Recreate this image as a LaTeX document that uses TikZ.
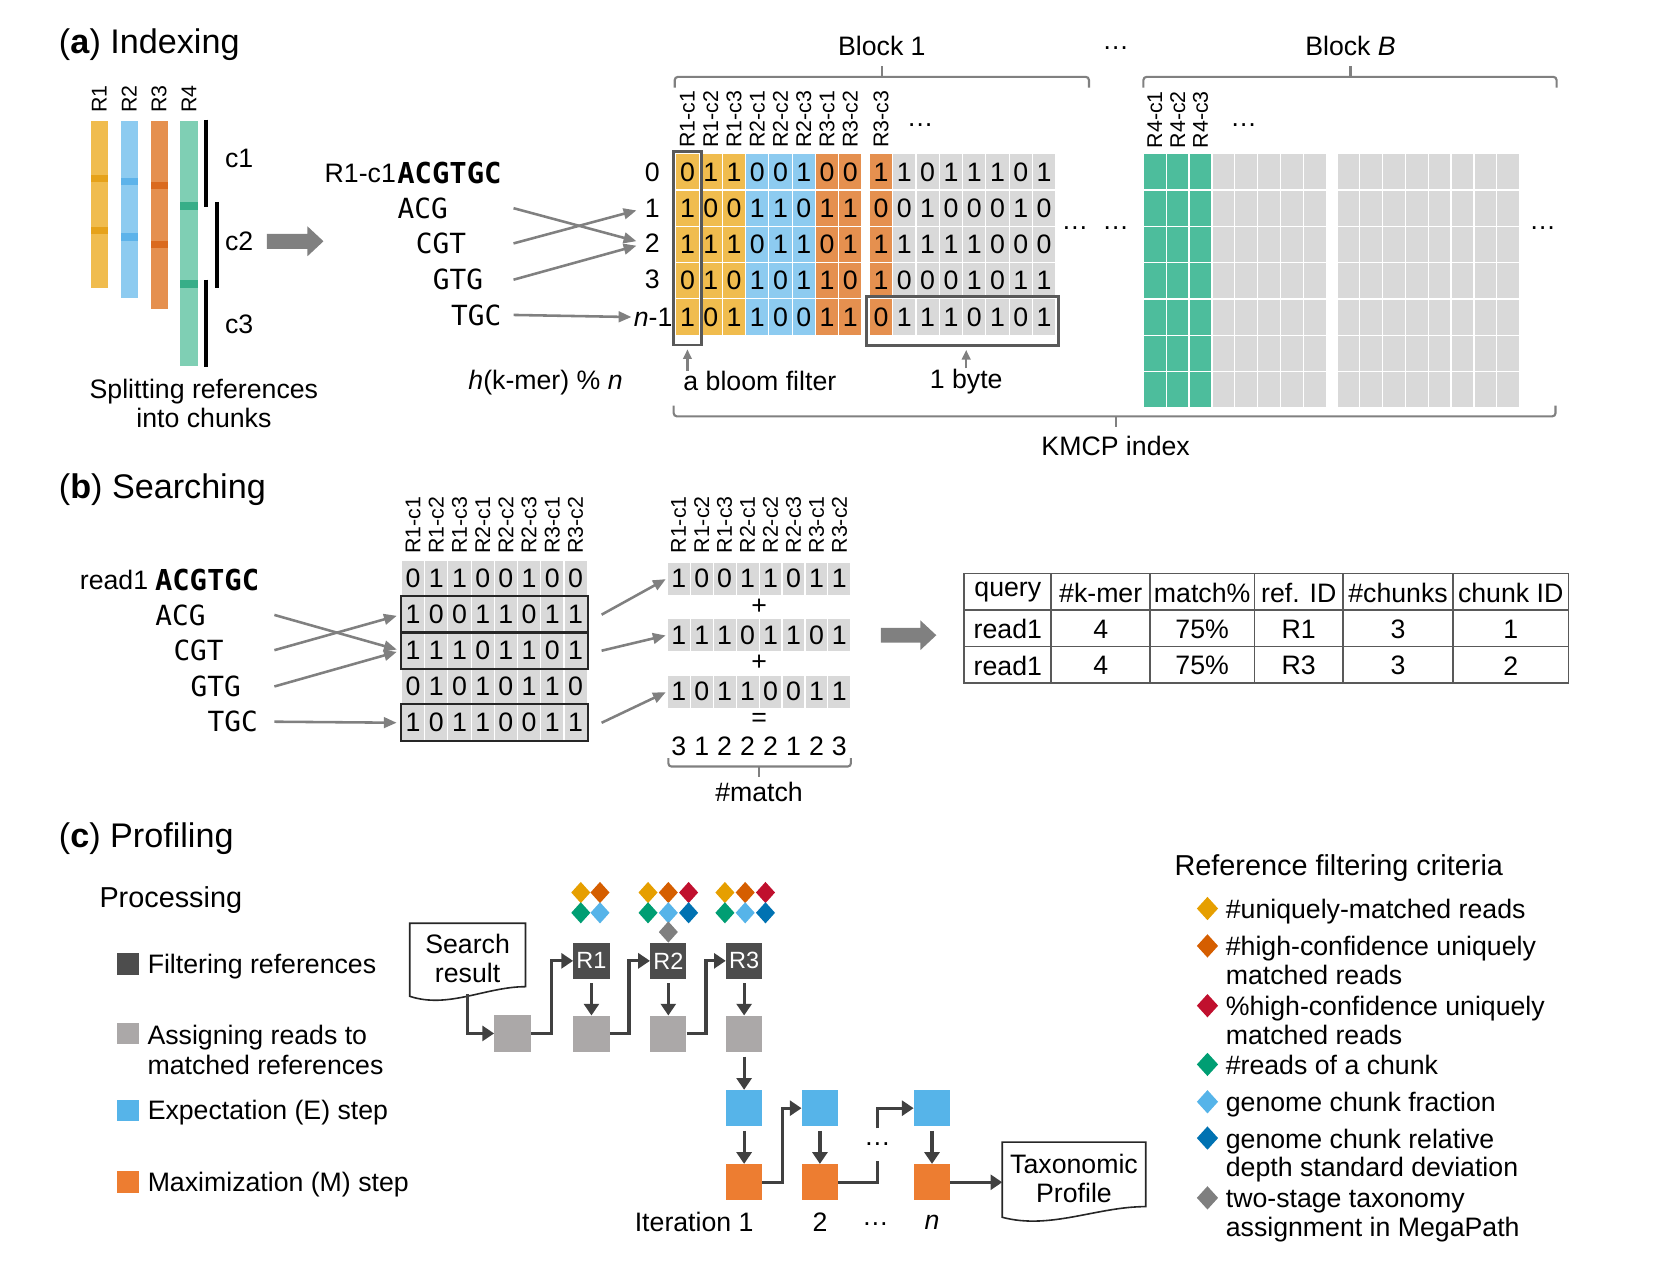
\documentclass[tikz,border=0pt]{standalone}
\usepackage{fontspec}
\setmainfont{Liberation Sans}
\newfontfamily\seqfont{DejaVu Sans Mono}
\usetikzlibrary{arrows.meta,shapes.geometric,positioning,calc,fit}

\definecolor{ry}{HTML}{F0BC4E}
\definecolor{ryd}{HTML}{E6A21A}
\definecolor{rb}{HTML}{8DCBF0}
\definecolor{rbd}{HTML}{5DB3EA}
\definecolor{ro}{HTML}{E5904F}
\definecolor{rod}{HTML}{DA6A1E}
\definecolor{rt}{HTML}{7FCFB4}
\definecolor{rtd}{HTML}{37AE88}
\definecolor{rg}{HTML}{4DBD9C}
\definecolor{lgr}{HTML}{D9D9D9}
\definecolor{agr}{HTML}{808080}
\definecolor{dgr}{HTML}{404040}
\definecolor{bgr}{HTML}{595959}
\definecolor{filt}{HTML}{4D4D4D}
\definecolor{asgn}{HTML}{ABA8A8}
\definecolor{estep}{HTML}{56B4E9}
\definecolor{mstep}{HTML}{ED7D31}
\definecolor{k1}{HTML}{E69F00}
\definecolor{k2}{HTML}{D55E00}
\definecolor{k3}{HTML}{C0102E}
\definecolor{k4}{HTML}{009E73}
\definecolor{k5}{HTML}{56B4E9}
\definecolor{k6}{HTML}{0072B2}
\definecolor{k7}{HTML}{7F7F7F}

\begin{document}
\begin{tikzpicture}
[x=1pt,y=-1pt,
    hd/.style={font=\fontsize{32}{36}\selectfont,inner sep=0,anchor=west},
    txt/.style={font=\fontsize{25}{27}\selectfont,inner sep=0},
    oneline/.style={text height=18pt,text depth=0pt},
    lbl/.style={font=\fontsize{20}{22}\selectfont,inner sep=0,rotate=90,anchor=west},
    seqf/.style={font=\fontsize{27}{30}\seqfont\bfseries,inner sep=0},
    kmer/.style={font=\fontsize{26}{28}\seqfont,inner sep=0},
    cell/.style={minimum width=21.8pt,minimum height=34pt,inner sep=0,draw=white,
    line width=1pt,font=\fontsize{25}{27}\selectfont},
    bcell/.style={cell,fill=lgr,minimum width=21.75pt,minimum height=33.75pt},
    karrow/.style={draw=agr,line width=2.4pt,-{Triangle[length=12pt,width=10pt]}},
    brk/.style={draw=agr,line width=2pt,rounded corners=3pt},
    bloombox/.style={draw=bgr,line width=2.5pt,inner sep=1.5pt},
    rowbox/.style={draw=black!85,line width=2pt},
    tbl/.style={draw=bgr,line width=1.5pt},
    fbox/.style={minimum width=34pt,minimum height=34pt,inner sep=0,
    font=\fontsize{22}{24}\selectfont},
    flow/.style={draw=dgr,line width=3pt,-{Triangle[length=11pt,width=14pt]}},
    doc/.style={draw=black!85,line width=1.5pt},
    crit/.style={diamond,fill=#1,minimum width=18pt,minimum height=20pt,inner sep=0},
    sq/.style={minimum width=20pt,minimum height=20pt,inner sep=0,fill=#1},
    ltxt/.style={font=\fontsize{25}{25.5}\selectfont,inner sep=0,align=left,
    anchor=north west}]
\useasboundingbox (0,0) rectangle (1568,1182);
%%%%%%%%%%
%% (a) indexing
\node (ha) [hd] at (55,42) {(\textbf{a}) Indexing};
%% references and chunks
\foreach \rn/\cl/\cd/\x/\yb/\sa/\sb in {R1/ry/ryd/93/270/167/216,R2/rb/rbd/121/279/170/222,
  R3/ro/rod/149/289/174/229,R4/rt/rtd/177/343/193/266}{
  \fill[\cl] (\x-8,113) rectangle (\x+8,\yb);
  \fill[\cd] (\x-8,\sa-3.5) rectangle (\x+8,\sa+3.5);
  \fill[\cd] (\x-8,\sb-3.5) rectangle (\x+8,\sb+3.5);
  \node (\rn) [lbl] at (\x,106) {\rn};
}
\draw[line width=4pt] (193,112) -- (193,194);
\draw[line width=4pt] (203,189) -- (203,270);
\draw[line width=4pt] (193,262) -- (193,344);
\node (c1) [txt] at (224,148) {c1};
\node (c2) [txt] at (224,226) {c2};
\node (c3) [txt] at (224,304) {c3};
\node (split) [txt,align=center] at (191,378) {Splitting references\\into chunks};
\fill[agr] (250,219) -- (288,219) -- (288,212) -- (303,226) -- (288,240) -- (288,233)
  -- (250,233) -- cycle;
%% k-mers of R1-c1
\node (ref) [txt,anchor=east] at (371,162) {R1-c1};
\node (seqa) [seqf,anchor=west] at (372,162) {ACGTGC};
\node (acg) [kmer] at (396,195) {ACG};
\node (cgt) [kmer] at (413,228) {CGT};
\node (gtg) [kmer] at (429,262) {GTG};
\node (tgc) [kmer] at (446,295) {TGC};
\node (row0) [txt] at (611,161) {0};
\node (row1) [txt] at (611,195) {1};
\node (row2) [txt] at (611,228) {2};
\node (row3) [txt] at (611,262) {3};
\node (rown) [txt,anchor=east] at (630,297) {\textit{n}-1};
\node (hash) [txt] at (511,358) {\textit{h}(k-mer) \% \textit{n}};
\coordinate (aout) at (481,0);
\draw[karrow,shorten >=8pt] (aout |- acg) -- (row2.west);
\draw[karrow,shorten >=8pt] (aout |- cgt) -- (row1.west);
\draw[karrow,shorten >=8pt] (aout |- gtg) -- (row2.west);
\draw[karrow,shorten >=2pt] (aout |- tgc) -- (rown.west);
%% block 1
\def\cw{21.8}
\foreach \bits [count=\r from 0] in {{0,1,1,0,0,1,0,0,1,1,0,1,1,1,0,1},
  {1,0,0,1,1,0,1,1,0,0,1,0,0,0,1,0},{1,1,1,0,1,1,0,1,1,1,1,1,1,0,0,0},
  {0,1,0,1,0,1,1,0,1,0,0,0,1,0,1,1},{1,0,1,1,0,0,1,1,0,1,1,1,0,1,0,1}}{
  \foreach \bit [count=\c from 0] in \bits {
    \pgfmathsetmacro\cx{633+\cw/2+\c*\cw+(\c>7)*7}
    \ifnum\c<3 \def\cellcol{ry}\else\ifnum\c<6 \def\cellcol{rb}\else
    \ifnum\c<9 \def\cellcol{ro}\else\def\cellcol{lgr}\fi\fi\fi
    \node (a\r-\c) [cell,fill=\cellcol] at (\cx,161+\r*34) {\bit};
  }
}
\foreach \lab [count=\c from 0] in {R1-c1,R1-c2,R1-c3,R2-c1,R2-c2,R2-c3,R3-c1,R3-c2,R3-c3}
  \node (al\c) [lbl] at ([yshift=5pt]a0-\c.north) {\lab};
\node (adots) [txt] at (862,117) {\textellipsis};
\node (bloom) [bloombox,fit={(a0-0.north west)(a4-0.south east)([yshift=-7pt]a4-0.south)}] {};
\node (byte) [bloombox,inner sep=2pt,
  fit={(a4-8.north west)(a4-15.south east)([yshift=-7pt]a4-15.south)}] {};
\node (lbloom) [txt,anchor=west] at (640,357) {a bloom filter};
\node (lbyte) [txt] at (905,357) {1 byte};
\draw[karrow,-{Triangle[length=9pt,width=8pt]},line width=2pt,shorten >=3pt]
  (lbloom.north -| bloom.south) -- (bloom.south);
\draw[karrow,-{Triangle[length=9pt,width=8pt]},line width=2pt,shorten >=3pt]
  (lbyte.north) -- (lbyte.north |- byte.south);
\node (ddots1) [txt] at (1007,214) {\textellipsis};
\node (ddots2) [txt] at (1045,214) {\textellipsis};
\node (bdots) [txt] at (1045,45) {\textellipsis};
%% block B
\foreach \r in {0,...,6}{
  \foreach \c in {0,...,15}{
    \pgfmathsetmacro\cx{1071+\c*21.4+(\c>7)*10}
    \ifnum\c<3 \def\cellcol{rg}\else\def\cellcol{lgr}\fi
    \fill[\cellcol] (\cx+0.6,144+\r*34+0.6) rectangle (\cx+21.4-0.6,178+\r*34-0.6);
  }
}
\foreach \lab [count=\c from 0] in {R4-c1,R4-c2,R4-c3}
  \node (bl\c) [lbl] at (1081.7+\c*21.4,139) {\lab};
\node (bldots) [txt] at (1165,117) {\textellipsis};
\node (edots) [txt] at (1445,214) {\textellipsis};
%% braces
\node (blk1) [txt] at (826,43) {Block 1};
\draw[brk] (632,82) -- (632,72) -- (1020,72) -- (1020,82);
\draw[brk] (826,72) -- (826,62);
\node (blkB) [txt] at (1265,43) {Block \textit{B}};
\draw[brk] (1071,82) -- (1071,72) -- (1458,72) -- (1458,82);
\draw[brk] (1265,72) -- (1265,62);
\draw[brk] (631,380) -- (631,390) -- (1457,390) -- (1457,380);
\draw[brk] (1045,390) -- (1045,400);
\node (kmcp) [txt] at (1045,418) {KMCP index};
%%%%%%%%%%
%% (b) searching
\node (hb) [hd] at (55,459) {(\textbf{b}) Searching};
\node (read) [txt,anchor=east] at (139,543) {read1};
\node (seqb) [seqf,anchor=west] at (145,543) {ACGTGC};
\node (bacg) [kmer] at (169,576) {ACG};
\node (bcgt) [kmer] at (186,609) {CGT};
\node (bgtg) [kmer] at (202,643) {GTG};
\node (btgc) [kmer] at (218,676) {TGC};
\def\qw{21.75}
\foreach \bits [count=\r from 0] in {{0,1,1,0,0,1,0,0},{1,0,0,1,1,0,1,1},{1,1,1,0,1,1,0,1},
  {0,1,0,1,0,1,1,0},{1,0,1,1,0,0,1,1}}{
  \foreach \bit [count=\c from 0] in \bits
    \node (bf\r-\c) [bcell] at (376+\qw/2+\c*\qw,542+\r*33.75) {\bit};
}
\foreach \r in {1,2,4}
  \draw[rowbox] (bf\r-0.north west) rectangle (bf\r-7.south east);
\coordinate (bout) at (257,0);
\draw[karrow,shorten >=4pt] (bout |- bacg) -- (bf2-0.west);
\draw[karrow,shorten >=4pt] (bout |- bcgt) -- (bf1-0.west);
\draw[karrow,shorten >=4pt] (bout |- bgtg) -- (bf2-0.west);
\draw[karrow,shorten >=4pt] (bout |- btgc) -- (bf4-0.west);
\foreach \bits [count=\r from 0] in {{1,0,0,1,1,0,1,1},{1,1,1,0,1,1,0,1},{1,0,1,1,0,0,1,1}}{
  \foreach \bit [count=\c from 0] in \bits
    \node (sm\r-\c) [bcell,minimum width=21.5pt,minimum height=31pt]
      at (625+10.75+\c*21.5,542+\r*53) {\bit};
}
\foreach \lab [count=\c from 0] in {R1-c1,R1-c2,R1-c3,R2-c1,R2-c2,R2-c3,R3-c1,R3-c2}{
  \node (ql\c) [lbl] at ([yshift=6pt]bf0-\c.north) {\lab};
  \node (pl\c) [lbl] at ([yshift=7.5pt]sm0-\c.north) {\lab};
}
\draw[karrow,shorten >=1pt] ([xshift=13pt]bf1-7.east) -- (sm0-0.west);
\draw[karrow,shorten >=1pt] ([xshift=13pt]bf2-7.east) -- (sm1-0.west);
\draw[karrow,shorten >=1pt] ([xshift=13pt]bf4-7.east) -- (sm2-0.west);
\node (plus1) [txt] at (711,568) {+};
\node (plus2) [txt] at (711,621) {+};
\node (eq) [txt] at (711,674) {=};
\foreach \m [count=\c from 0] in {3,1,2,2,2,1,2,3}
  \node (sum\c) [txt] at (635.75+\c*21.5,699) {\m};
\draw[brk] (626,710) -- (626,718) -- (797,718) -- (797,710);
\draw[brk] (711,718) -- (711,728);
\node (match) [txt] at (711,742) {\#match};
\fill[agr] (825,588) -- (862,588) -- (862,581) -- (877,595) -- (862,609) -- (862,602)
  -- (825,602) -- cycle;
%% result table
\draw[tbl] (903,537) rectangle (1469,640);
\foreach \y in {571.5,605.5} \draw[tbl] (903,\y) -- (1469,\y);
\foreach \x in {984.5,1077,1175,1258,1361} \draw[tbl] (\x,537) -- (\x,640);
\foreach \row [count=\r from 0] in {{query,\#k-mer,match\%,ref. ID,\#chunks,chunk ID},
  {read1,4,75\%,R1,3,1},{read1,4,75\%,R3,3,2}}{
  \foreach \entry [count=\c from 0] in \row {
    \pgfmathsetmacro\tx{{944,1031,1126,1216.5,1309.5,1415}[\c]}
    \node (t\r-\c) [txt] at (\tx,555+\r*34.3) {\entry};
  }
}
%%%%%%%%%%
%% (c) profiling
\node (hc) [hd] at (55,786) {(\textbf{c}) Profiling};
\node (proc) [font=\fontsize{27}{30}\selectfont,inner sep=0,anchor=west] at (93,843) {Processing};
\node (lf) [sq=filt] at (120,903) {};
\node (tf) [txt,oneline,right=8pt of lf] {Filtering references};
\node (la) [sq=asgn] at (120,968) {};
\node (ta) [txt,font=\fontsize{25}{28}\selectfont,align=left,anchor=north west]
  at (138,958.5) {\strut Assigning reads to\\matched references};
\node (le) [sq=estep] at (120,1040) {};
\node (te) [txt,oneline,right=8pt of le] {Expectation (E) step};
\node (lm) [sq=mstep] at (120,1107) {};
\node (tm) [txt,oneline,right=8pt of lm] {Maximization (M) step};
%% workflow
\node (sr) [txt,align=center,minimum width=108pt,minimum height=66pt] at (438,898) {Search\\result};
\draw[doc] (sr.north west) -- (sr.north east) -- ([yshift=7pt]sr.south east)
  .. controls ([xshift=-37pt,yshift=7pt]sr.south east) and ([xshift=36pt,yshift=-14pt]sr.south west)
  .. ([yshift=-2pt]sr.south west) -- cycle;
\node (fr1) [fbox,fill=filt,text=white] at (554,900) {R1};
\node (fr2) [fbox,fill=filt,text=white] at (626,900) {R2};
\node (fr3) [fbox,fill=filt,text=white] at (697,900) {R3};
\node (as1) [fbox,fill=asgn] at (480,968) {};
\node (as2) [fbox,fill=asgn,below=34pt of fr1] {};
\node (as3) [fbox,fill=asgn,below=34pt of fr2] {};
\node (as4) [fbox,fill=asgn,below=34pt of fr3] {};
\node (es1) [fbox,fill=estep] at (697,1038) {};
\node (es2) [fbox,fill=estep] at (768,1038) {};
\node (es3) [fbox,fill=estep] at (873,1038) {};
\node (ms1) [fbox,fill=mstep,below=35pt of es1] {};
\node (ms2) [fbox,fill=mstep,below=35pt of es2] {};
\node (ms3) [fbox,fill=mstep,below=35pt of es3] {};
\node (idots) [txt,minimum height=30pt] at (822,1072) {\textellipsis};
\node (tax) [txt,align=center,minimum width=134pt,minimum height=68pt] at (1006,1104) {Taxonomic\\Profile};
\draw[doc] (tax.north west) -- (tax.north east) -- ([yshift=8pt]tax.south east)
  .. controls ([xshift=-46pt,yshift=8pt]tax.south east) and ([xshift=45pt,yshift=-14pt]tax.south west)
  .. ([yshift=-2pt]tax.south west) -- cycle;
\draw[flow] (sr.south) |- (as1.west);
\draw[flow] (as1.east) -- ++(19,0) |- (fr1.west);
\draw[flow,shorten <=4pt] (fr1) -- (as2);
\draw[flow] (as2.east) -- ++(18,0) |- (fr2.west);
\draw[flow,shorten <=4pt] (fr2) -- (as3);
\draw[flow] (as3.east) -- ++(18,0) |- (fr3.west);
\draw[flow,shorten <=4pt] (fr3) -- (as4);
\draw[flow,shorten <=4pt] (as4) -- (es1);
\draw[flow,shorten <=4pt] (es1) -- (ms1);
\draw[flow] (ms1.east) -- ++(19,0) |- (es2.west);
\draw[flow,shorten <=4pt] (es2) -- (ms2);
\draw[draw=dgr,line width=3pt] (ms2.east) -| (idots.south);
\draw[flow] (idots.north) |- (es3.west);
\draw[flow,shorten <=4pt] (es3) -- (ms3);
\draw[flow] (ms3.east) -- (ms3.east -| tax.west);
\node (it1) [txt,anchor=east] at (706,1145) {Iteration 1};
\node (it2) [txt] at (ms2 |- it1) {2};
\node (itd) [txt] at (820,1147) {\textellipsis};
\node (itn) [txt] at (ms3 |- it1) {\textit{n}};
%% criteria marks
\foreach \cl/\x/\y [count=\i] in {k1/544/836,k2/562/836,k4/544/855,k5/562/855,
  k1/607/836,k2/626/836,k3/645/836,k4/607/855,k5/626/855,k6/645/855,k7/626/873,
  k1/679/836,k2/698/836,k3/717/836,k4/679/855,k5/698/855,k6/717/855}
  \node (dm\i) [crit=\cl] at (\x,\y) {};
%% criteria legend
\node (crit) [font=\fontsize{27}{30}\selectfont,inner sep=0,anchor=west] at (1100,813)
  {Reference filtering criteria};
\foreach \cl/\y/\ltx [count=\i] in {k1/851/{\#uniquely-matched reads},
  k2/886/{\#high-confidence uniquely\\matched reads},
  k3/942/{\%high-confidence uniquely\\matched reads},
  k4/997/{\#reads of a chunk},k5/1032/{genome chunk fraction},
  k6/1066/{genome chunk relative\\depth standard deviation},
  k7/1122/{two-stage taxonomy\\assignment in MegaPath}}{
  \node (cd\i) [crit=\cl,minimum width=20pt,minimum height=22pt] at (1131,\y) {};
  \node (ct\i) [ltxt] at (1148,\y-9) {\strut\ltx};
}
\end{tikzpicture}
\end{document}
